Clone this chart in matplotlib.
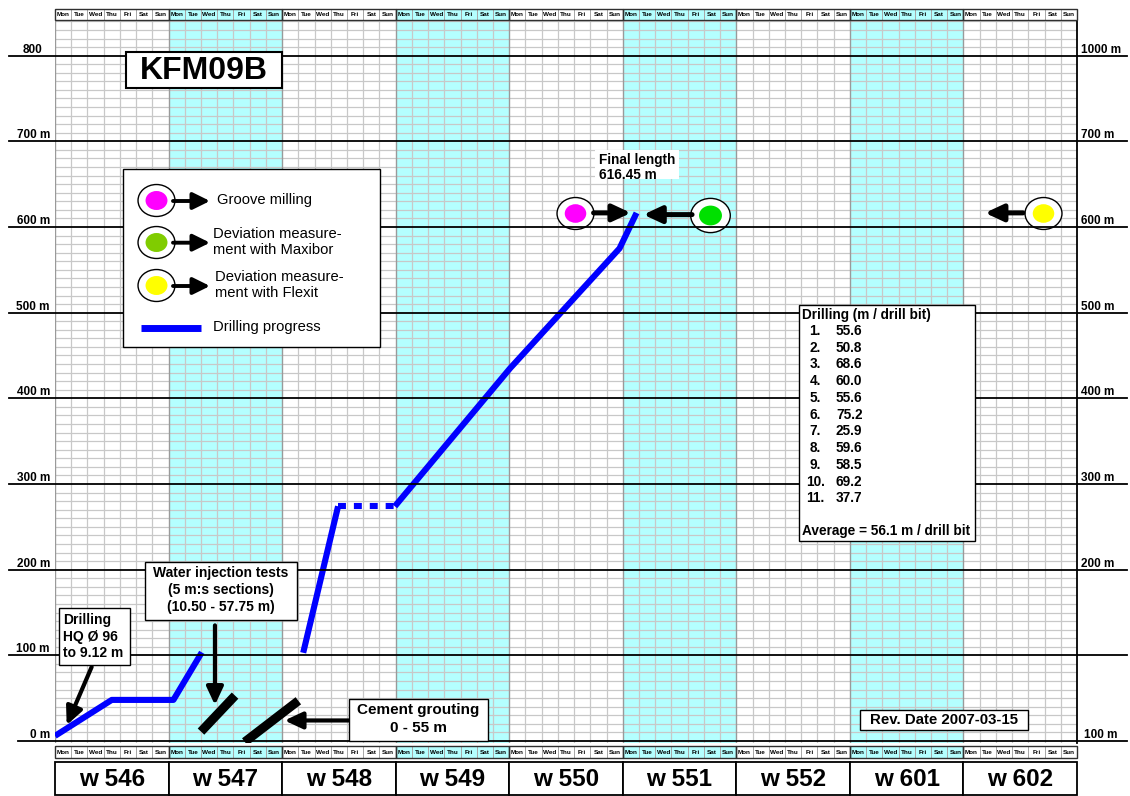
"""KFM09B drilling progress chart (weeks 546-602)."""

import matplotlib
matplotlib.use("Agg")
import matplotlib.pyplot as plt
from matplotlib import transforms
from matplotlib.lines import Line2D
from matplotlib.patches import Rectangle, FancyArrowPatch
from matplotlib.path import Path

plt.rcParams["font.family"] = ["Liberation Sans", "DejaVu Sans"]

# ---------------------------------------------------------------------
# data
# ---------------------------------------------------------------------
day_names = ["Mon", "Tue", "Wed", "Thu", "Fri", "Sat", "Sun"]
week_labels = ["w 546", "w 547", "w 548", "w 549", "w 550",
               "w 551", "w 552", "w 601", "w 602"]
shaded_weeks = [1, 3, 5, 7]

left_ticks = [0, 100, 200, 300, 400, 500, 600, 700, 800]
left_labels = ["0 m", "100 m", "200 m", "300 m", "400 m",
               "500 m", "600 m", "700 m", "800"]
right_ticks = [0, 200, 300, 400, 500, 600, 700, 800]
right_labels = ["100 m", "200 m", "300 m", "400 m",
                "500 m", "600 m", "700 m", "1000 m"]

# drilling progress (day since Mon w546, borehole length m)
drill1_day = [0.0, 3.5, 7.3, 9.05]
drill1_len = [6, 48, 48, 103.5]
drill2_day = [15.3, 17.45]
drill2_len = [103, 274]
pause_day = [17.45, 20.95]
pause_len = [274, 274]
drill3_day = [20.95, 28.05, 34.8, 35.85]
drill3_len = [274, 435, 575, 616.45]

water_inj_day = [9.0, 11.1]
water_inj_len = [11, 53]
grout_day = [11.7, 15.0]
grout_len = [-1, 47]

final_length = 616.45
groove_day = 32.05
maxibor_day = 40.4
flexit_day = 60.9

bit_lengths = ["55.6", "50.8", "68.6", "60.0", "55.6", "75.2",
               "25.9", "59.6", "58.5", "69.2", "37.7"]
bit_average = 56.1

# ---------------------------------------------------------------------
# layout helpers (pixel -> figure fraction)
# ---------------------------------------------------------------------
W, H = 1130, 796


def fx(x):
    return x / W


def fy(y):
    return 1 - y / H


CYAN = "#B4FFFF"
GRID = "#C8C8C8"

fig = plt.figure(figsize=(W / 100, H / 100), dpi=100)
ax = fig.add_axes([fx(55), fy(743), fx(1077) - fx(55), fy(20) - fy(743)])
ax.set_xlim(0, 63)
ax.set_ylim(-2.3, 841.6)
ax.set_xticks([])
ax.set_yticks([])
for s in ["left", "top", "bottom"]:
    ax.spines[s].set_visible(False)
ax.spines["right"].set_linewidth(1.3)

for w in shaded_weeks:
    ax.axvspan(w * 7, w * 7 + 7, color=CYAN, lw=0, zorder=0)

for m in range(10, 850, 10):
    if m % 100:
        ax.axhline(m, color=GRID, lw=0.9, zorder=1)
for d in range(0, 63):
    if d % 7:
        ax.axvline(d, color=GRID, lw=0.9, zorder=1)
    else:
        ax.axvline(d, color="#9A9A9A", lw=1.0, zorder=1)
ax.axhline(841.6, color="#9A9A9A", lw=1.5, zorder=1)

# long black 100 m lines, running out past the plot on both sides
yline = transforms.blended_transform_factory(fig.transFigure, ax.transData)
for m in left_ticks:
    x0 = 18 if m == 0 else 9
    fig.add_artist(Line2D([fx(x0), fx(1127)], [m, m], transform=yline,
                          color="black", lw=1.3, clip_on=False))
for m, lab in zip(left_ticks, left_labels):
    x1 = 42 if m == 800 else 50
    fig.text(fx(x1), m + 3.5, lab, transform=yline, ha="right", va="baseline",
             fontsize=8.5, fontweight="bold")
for m, lab in zip(right_ticks, right_labels):
    x0 = 1084 if m == 0 else 1081
    fig.text(fx(x0), m + 3.5, lab, transform=yline, ha="left", va="baseline",
             fontsize=8.5, fontweight="bold")

# ---------------------------------------------------------------------
# day / week header rows
# ---------------------------------------------------------------------
xrow = transforms.blended_transform_factory(ax.transData, fig.transFigure)
for top, bot in [(8.5, 20.3), (746, 758)]:
    for d in range(63):
        wk = d // 7
        fc = CYAN if wk in shaded_weeks else "white"
        fig.add_artist(Rectangle((d, fy(bot)), 1, fy(top) - fy(bot),
                                 transform=xrow, facecolor=fc,
                                 edgecolor="#A8A8A8", lw=0.7))
        fig.text(d + 0.5, (fy(top) + fy(bot)) / 2, day_names[d % 7],
                 transform=xrow, ha="center", va="center",
                 fontsize=4.6, fontweight="bold")
    for wk in range(9):
        fig.add_artist(Rectangle((wk * 7, fy(bot)), 7, fy(top) - fy(bot),
                                 transform=xrow, facecolor="none",
                                 edgecolor="#303030", lw=1.0))

for wk, lab in enumerate(week_labels):
    fig.add_artist(Rectangle((wk * 7, fy(795)), 7, fy(762) - fy(795),
                             transform=xrow, facecolor="white",
                             edgecolor="black", lw=1.3))
    fig.text(wk * 7 + 3.5, fy(779), lab, transform=xrow, ha="center",
             va="center", fontsize=17.5, fontweight="bold")

# ---------------------------------------------------------------------
# progress lines
# ---------------------------------------------------------------------
blue = "#0000FF"
kw = dict(color=blue, lw=4.4, solid_capstyle="butt", zorder=4)
ax.plot(drill1_day, drill1_len, **kw)
ax.plot(drill2_day, drill2_len, **kw)
ax.plot(drill3_day, drill3_len, **kw)
ax.plot(pause_day, pause_len, color=blue, lw=4.4, ls=(0, (1.3, 1.3)),
        dash_capstyle="butt", zorder=4)
ax.plot(water_inj_day, water_inj_len, color="black", lw=6.5,
        solid_capstyle="butt", zorder=4)
ax.plot(grout_day, grout_len, color="black", lw=6.5,
        solid_capstyle="butt", zorder=4)

# ellipse marker (a bit wider than tall)
ell = Path.unit_circle().transformed(
    transforms.Affine2D().scale(1, 0.865))


def event_marker(x, y, color, outer=26.6, inner=15.5):
    ax.plot([x], [y], marker=ell, ms=outer, mfc="white", mec="black",
            mew=1.0, ls="none", zorder=6, clip_on=False)
    ax.plot([x], [y], marker=ell, ms=inner, mfc=color, mec="none",
            ls="none", zorder=7, clip_on=False)


def arrow(xy, xytext, lw=3.0, hl=0.9, hw=0.42):
    ax.annotate("", xy=xy, xytext=xytext,
                arrowprops=dict(arrowstyle=f"-|>,head_length={hl},head_width={hw}",
                                lw=lw, color="black", shrinkA=0, shrinkB=0,
                                mutation_scale=12),
                zorder=8, annotation_clip=False)


event_marker(groove_day, final_length, "#FF00FF")
event_marker(maxibor_day, final_length - 2, "#00E000", outer=28.5, inner=16.5)
event_marker(flexit_day, final_length, "#FFFF00")
arrow((35.5, final_length), (33.2, final_length), lw=3.6)
arrow((36.27, final_length - 2), (39.27, final_length - 2), lw=3.6)
arrow((57.33, final_length), (59.67, final_length), lw=3.6)

arrow((0.72, 18.6), (2.26, 86.5), lw=3.0)
arrow((9.86, 42), (9.86, 135), lw=3.0)
arrow((14.15, 24), (18.1, 24), lw=3.0)

# ---------------------------------------------------------------------
# boxes with text (pixel layout)
# ---------------------------------------------------------------------


def box(x0, y0, x1, y1, ec="black", lw=1.0):
    fig.add_artist(Rectangle((fx(x0), fy(y1)), fx(x1) - fx(x0), fy(y0) - fy(y1),
                             transform=fig.transFigure, facecolor="white",
                             edgecolor=ec, lw=lw, zorder=10))


def txt(x, y, s, size=10, bold=True, ha="left"):
    fig.text(fx(x), fy(y), s, ha=ha, va="center", fontsize=size,
             fontweight="bold" if bold else "normal", zorder=11)


box(126, 52, 282, 88, lw=1.5)
txt(204, 71, "KFM09B", size=23, ha="center")

# legend
box(122.7, 169.3, 380, 347.3)
leg_rows = [(200, 217, "#FF00FF", "Groove milling"),
            (241.7, 213, "#80CC00", "Deviation measure-\nment with Maxibor"),
            (285, 215, "#FFFF00", "Deviation measure-\nment with Flexit")]
for y, xt, col, lab in leg_rows:
    for ms, fc, ec in [(26.6, "white", "black"), (15.8, col, "none")]:
        fig.add_artist(Line2D([fx(155.5)], [fy(y)], transform=fig.transFigure,
                              marker=ell, ms=ms, mfc=fc, mec=ec, mew=1.0,
                              ls="none", zorder=12))
    fig.add_artist(FancyArrowPatch((fx(173), fy(y + 1)), (fx(210), fy(y + 1)),
                                   transform=fig.transFigure,
                                   arrowstyle="-|>,head_length=0.85,head_width=0.42",
                                   lw=2.8, color="black", shrinkA=0, shrinkB=0,
                                   mutation_scale=12, zorder=12))
    fig.text(fx(xt), fy(y), lab, ha="left", va="center", fontsize=10.6,
             linespacing=1.2, zorder=12)
fig.add_artist(Line2D([fx(140.7), fx(200.7)], [fy(328.3), fy(328.3)],
                      transform=fig.transFigure, color=blue, lw=5,
                      solid_capstyle="butt", zorder=12))
fig.text(fx(213), fy(327), "Drilling progress", ha="left", va="center",
         fontsize=10.6, zorder=12)

# callouts
box(59, 608, 130, 665)
for i, s in enumerate(["Drilling", "HQ Ø 96", "to 9.12 m"]):
    txt(63, 620 + 16.5 * i, s)

box(145, 562, 297, 620)
for i, s in enumerate(["Water injection tests", "(5 m:s sections)",
                       "(10.50 - 57.75 m)"]):
    txt(221, 573 + 17 * i, s, ha="center")

box(349.3, 699.3, 487.7, 741.3)
txt(418.3, 710, "Cement grouting", size=11, ha="center")
txt(418.3, 728.3, "0 - 55 m", size=11, ha="center")

box(595, 150, 679.3, 179.3, ec="none")
txt(599, 160, "Final length", size=9.8)
txt(599, 175, f"{final_length:.2f} m", size=9.8)

box(799, 305, 975, 541)
txt(802, 315, "Drilling (m / drill bit)", size=9.8)
for i, v in enumerate(bit_lengths):
    y = 331 + 16.73 * i
    txt(809.3 if i < 9 else 806, y, f"{i + 1}.", size=9.8)
    txt(836, y, v, size=9.8)
txt(802, 531, f"Average = {bit_average} m / drill bit", size=9.8)

box(860, 710, 1028, 730)
txt(944, 720, "Rev. Date 2007-03-15", size=10.8, ha="center")

fig.savefig("out.png", dpi=100)
